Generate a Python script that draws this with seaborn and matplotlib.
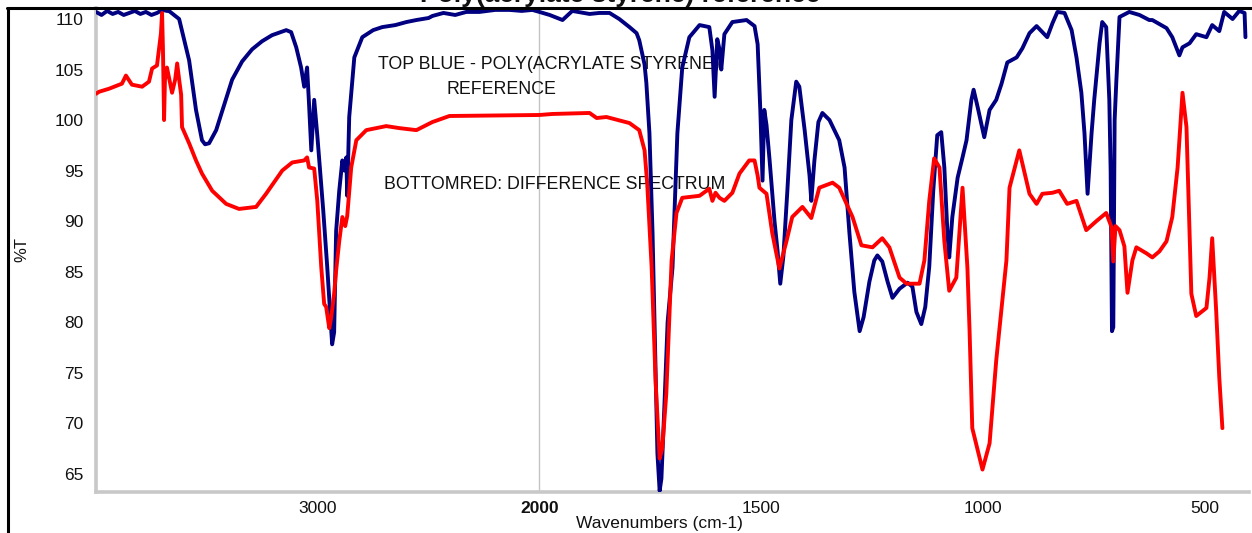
import numpy as np
import matplotlib
matplotlib.use("Agg")
import matplotlib.pyplot as plt
import seaborn as sns
import pandas as pd
from matplotlib.lines import Line2D

# ---------------- data (wavenumber cm-1, %T) ----------------
blue_wn = [
    4000, 3975, 3950, 3925, 3900, 3875, 3850, 3825, 3800, 3775,
    3750, 3725, 3700, 3680, 3671, 3625, 3580, 3549, 3522, 3508,
    3490, 3458, 3422, 3386, 3341, 3296, 3251, 3206, 3142, 3120,
    3097, 3075, 3061, 3048, 3039, 3029, 3016, 3002, 2993, 2975,
    2957, 2943, 2935, 2926, 2917, 2903, 2889, 2880, 2871, 2867,
    2858, 2835, 2799, 2750, 2709, 2650, 2600, 2555, 2500, 2483,
    2433, 2380, 2330, 2271, 2200, 2135, 2080, 2032, 2000, 1977,
    1948, 1926, 1887, 1865, 1842, 1820, 1797, 1781, 1775, 1763,
    1759, 1752, 1745, 1738, 1734, 1729, 1725, 1718, 1711, 1700,
    1689, 1678, 1662, 1639, 1617, 1610, 1605, 1601, 1599, 1594,
    1590, 1583, 1565, 1533, 1515, 1508, 1502, 1497, 1493, 1488,
    1481, 1470, 1463, 1457, 1450, 1441, 1432, 1421, 1414, 1402,
    1391, 1387, 1380, 1371, 1362, 1346, 1335, 1324, 1312, 1301,
    1290, 1278, 1269, 1256, 1245, 1238, 1227, 1215, 1204, 1188,
    1170, 1159, 1150, 1139, 1130, 1121, 1112, 1103, 1094, 1087,
    1080, 1076, 1069, 1057, 1046, 1037, 1026, 1021, 1012, 997,
    985, 970, 958, 945, 924, 911, 895, 879, 855, 843,
    832, 816, 800, 789, 778, 771, 764, 755, 749, 737,
    731, 722, 715, 712, 709, 706, 703, 699, 692, 670,
    647, 625, 618, 586, 573, 557, 550, 534, 519, 496,
    483, 467, 456, 437, 422, 410, 408]
blue_t = [
    110.7, 110.4, 110.8, 110.5, 110.7, 110.4, 110.6, 110.8, 110.5, 110.7,
    110.4, 110.6, 110.9, 110.8, 110.8, 110.0, 105.9, 101.0, 98.0, 97.6,
    97.7, 99.0, 101.5, 104.0, 105.8, 107.0, 107.8, 108.4, 108.9, 108.7,
    107.2, 105.2, 103.3, 105.2, 101.5, 97.0, 102.0, 98.5, 96.0, 91.0,
    85.4, 80.5, 77.8, 79.0, 89.0, 93.0, 96.0, 95.0, 96.3, 92.5,
    100.3, 106.2, 108.2, 108.9, 109.2, 109.4, 109.7, 109.9, 110.1, 110.3,
    110.6, 110.4, 110.7, 110.7, 110.9, 110.9, 110.8, 110.9, 110.7, 110.4,
    109.9, 110.8, 110.5, 110.6, 110.6, 110.0, 109.2, 108.6, 107.9, 105.5,
    103.7, 98.7, 88.8, 75.0, 67.0, 63.3, 64.5, 72.0, 80.0, 85.4,
    98.7, 105.2, 108.2, 109.4, 109.2, 106.9, 102.3, 106.0, 108.0, 107.0,
    105.0, 108.5, 109.7, 109.9, 109.3, 107.5, 101.0, 94.0, 101.0, 99.5,
    96.0, 90.0, 87.0, 83.8, 86.5, 93.0, 100.0, 103.8, 103.3, 99.0,
    94.5, 92.0, 96.0, 99.8, 100.7, 100.0, 99.0, 98.0, 95.3, 88.8,
    83.0, 79.1, 80.5, 84.0, 86.1, 86.6, 86.0, 84.0, 82.4, 83.3,
    83.9, 83.5, 81.0, 79.8, 81.5, 85.5, 93.0, 98.5, 98.8, 95.3,
    88.8, 86.4, 90.4, 94.3, 96.3, 98.0, 102.0, 103.0, 101.3, 98.3,
    101.0, 102.0, 103.6, 105.7, 106.2, 107.1, 108.6, 109.3, 108.2, 109.6,
    110.7, 110.6, 108.9, 106.2, 102.7, 98.7, 92.7, 98.7, 102.0, 107.6,
    109.7, 109.2, 102.0, 95.0, 79.1, 79.5, 100.0, 104.0, 110.2, 110.7,
    110.4, 109.9, 109.9, 109.1, 108.2, 106.4, 107.2, 107.6, 108.5, 108.2,
    109.4, 108.8, 110.7, 110.0, 110.8, 110.6, 108.2]

red_wn = [
    4000, 3986, 3941, 3883, 3865, 3838, 3792, 3761, 3747, 3725,
    3707, 3702, 3698, 3693, 3689, 3680, 3657, 3643, 3634, 3625,
    3616, 3612, 3580, 3549, 3522, 3476, 3413, 3355, 3278, 3233,
    3160, 3115, 3061, 3048, 3039, 3016, 3002, 2984, 2971, 2962,
    2948, 2939, 2926, 2917, 2903, 2889, 2876, 2867, 2849, 2826,
    2781, 2691, 2632, 2555, 2483, 2406, 2000, 1971, 1887, 1871,
    1849, 1797, 1775, 1763, 1757, 1747, 1738, 1729, 1723, 1714,
    1702, 1691, 1678, 1639, 1617, 1610, 1603, 1594, 1583, 1565,
    1549, 1527, 1515, 1508, 1504, 1488, 1475, 1459, 1443, 1430,
    1407, 1387, 1369, 1339, 1324, 1294, 1274, 1249, 1227, 1211,
    1188, 1172, 1143, 1132, 1121, 1110, 1098, 1087, 1076, 1060,
    1046, 1035, 1030, 1024, 1001, 985, 970, 947, 940, 918,
    895, 879, 866, 843, 828, 810, 789, 767, 744, 722,
    710, 706, 701, 692, 681, 674, 663, 654, 631, 618,
    602, 586, 573, 561, 550, 541, 534, 530, 519, 496,
    489, 483, 474, 467, 460]
red_t = [
    102.6, 102.8, 103.1, 103.6, 104.4, 103.5, 103.3, 103.8, 105.1, 105.4,
    108.6, 110.6, 107.0, 100.0, 104.0, 105.2, 102.7, 104.0, 105.6, 104.0,
    102.5, 99.3, 97.7, 96.0, 94.7, 93.0, 91.7, 91.2, 91.4, 92.7,
    95.0, 95.8, 96.0, 96.3, 95.3, 95.2, 92.0, 85.4, 81.8, 81.5,
    79.4, 80.5, 82.8, 85.1, 88.0, 90.4, 89.5, 90.5, 95.3, 98.0,
    99.0, 99.4, 99.2, 99.0, 99.8, 100.4, 100.5, 100.6, 100.7, 100.2,
    100.3, 99.7, 99.0, 97.0, 93.7, 85.4, 74.0, 66.5, 67.5, 72.9,
    86.1, 90.8, 92.3, 92.5, 93.2, 92.0, 92.8, 92.3, 92.0, 92.8,
    94.7, 96.0, 96.0, 94.5, 93.3, 92.7, 88.8, 85.3, 88.0, 90.4,
    91.4, 90.3, 93.3, 93.8, 93.3, 90.4, 87.6, 87.4, 88.3, 87.4,
    84.4, 83.8, 83.8, 86.1, 92.0, 96.2, 95.3, 88.0, 83.1, 84.4,
    93.3, 85.4, 79.0, 69.5, 65.4, 68.0, 76.2, 86.1, 93.3, 97.0,
    92.7, 91.7, 92.7, 92.8, 93.0, 91.7, 92.0, 89.1, 90.0, 90.8,
    89.4, 86.0, 89.5, 89.1, 87.5, 82.9, 86.1, 87.4, 86.8, 86.4,
    87.0, 88.0, 90.4, 95.3, 102.7, 99.3, 89.0, 82.8, 80.6, 81.4,
    84.4, 88.3, 81.1, 74.5, 69.5]

x_major = [3000, 2000, 1500, 1000, 500]
x_major_labels = ["3000", "2000", "1500", "1000", "500"]
y_major = [65, 70, 75, 80, 85, 90, 95, 100, 105, 110]

note_top = "TOP BLUE - POLY(ACRYLATE STYRENE)"
note_ref = "REFERENCE"
note_bottom = "BOTTOMRED: DIFFERENCE SPECTRUM"
title_text = "Poly(acrylate styrene) reference"

# ---------------- style ----------------
sns.set_style("white")
plt.rcParams["font.family"] = ["Liberation Sans", "DejaVu Sans"]

W, H = 1252, 533
fig = plt.figure(figsize=(W / 100, H / 100), dpi=100)
ax = fig.add_axes([96 / W, 1 - 492 / H, (1249 - 96) / W, (492 - 8) / H])


def fwd(w):
    w = np.asarray(w, dtype=float)
    return np.where(w > 2000, 2000 + (w - 2000) / 2.0, w)


def inv(u):
    u = np.asarray(u, dtype=float)
    return np.where(u > 2000, 2000 + (u - 2000) * 2.0, u)


ax.set_xscale("function", functions=(fwd, inv))

blue_df = pd.DataFrame({"wn": blue_wn, "T": blue_t})
red_df = pd.DataFrame({"wn": red_wn, "T": red_t})

ax.axvline(2000, color="#c4c4c4", lw=1.0, zorder=1)
sns.lineplot(data=blue_df, x="wn", y="T", ax=ax, color="#000080", lw=2.8,
             estimator=None, sort=False, zorder=3)
sns.lineplot(data=red_df, x="wn", y="T", ax=ax, color="#ff0000", lw=2.8,
             estimator=None, sort=False, zorder=4)

ax.set_xlim(4000, 400)
ax.set_ylim(63.18, 111.09)

ax.set_xticks(x_major, labels=x_major_labels)
minor_x = [w for w in list(range(3800, 2000, -200)) + list(range(1900, 399, -100))
           if w not in x_major]
ax.set_xticks(minor_x, minor=True)
ax.set_yticks(y_major, labels=[str(v) for v in y_major])
ax.set_yticks([v for v in range(64, 112) if v not in y_major], minor=True)

for lbl in ax.get_xticklabels():
    if lbl.get_text() == "2000":
        lbl.set_fontweight("bold")

ax.tick_params(axis="both", which="major", direction="out", length=5, width=1.2,
               color="#333333", labelsize=12.5, labelcolor="#111111", pad=4)
ax.tick_params(axis="both", which="minor", direction="inout", length=4, width=1.0,
               color="#444444")
ax.tick_params(axis="x", which="major", direction="inout", length=5)

for side in ("top", "right"):
    ax.spines[side].set_visible(False)
for side in ("left", "bottom"):
    ax.spines[side].set_color("#c8c8c8")
    ax.spines[side].set_linewidth(2.6)

ax.set_xlabel("Wavenumbers (cm-1)", fontsize=12.5, color="#111111")
ax.xaxis.set_label_coords(0.489, -0.05)
ax.set_ylabel("%T", fontsize=12, color="#111111")
ax.yaxis.set_label_coords(-0.058, 0.5)

ax.text(0.393, 0.884, note_top, transform=ax.transAxes, ha="center", va="center",
        fontsize=12.8, color="#111111", zorder=2)
ax.text(0.352, 0.831, note_ref, transform=ax.transAxes, ha="center", va="center",
        fontsize=12.8, color="#111111", zorder=2)
ax.text(0.398, 0.636, note_bottom, transform=ax.transAxes, ha="center", va="center",
        fontsize=12.8, color="#111111", zorder=2)

# outer frame lines (top and left) of the original figure border
fig.add_artist(Line2D([7 / W, 1.0], [1 - 7.5 / H, 1 - 7.5 / H], transform=fig.transFigure,
                      color="black", lw=2.2))
fig.add_artist(Line2D([7.5 / W, 7.5 / W], [0, 1 - 7.5 / H], transform=fig.transFigure,
                      color="black", lw=2.2))

# title, mostly cut off by the top edge as in the original
fig.text(0.495, 1 - 2 / H, title_text, ha="center", va="baseline", fontsize=19,
         fontweight="bold", color="#111111")

fig.savefig("out.png", dpi=100)
